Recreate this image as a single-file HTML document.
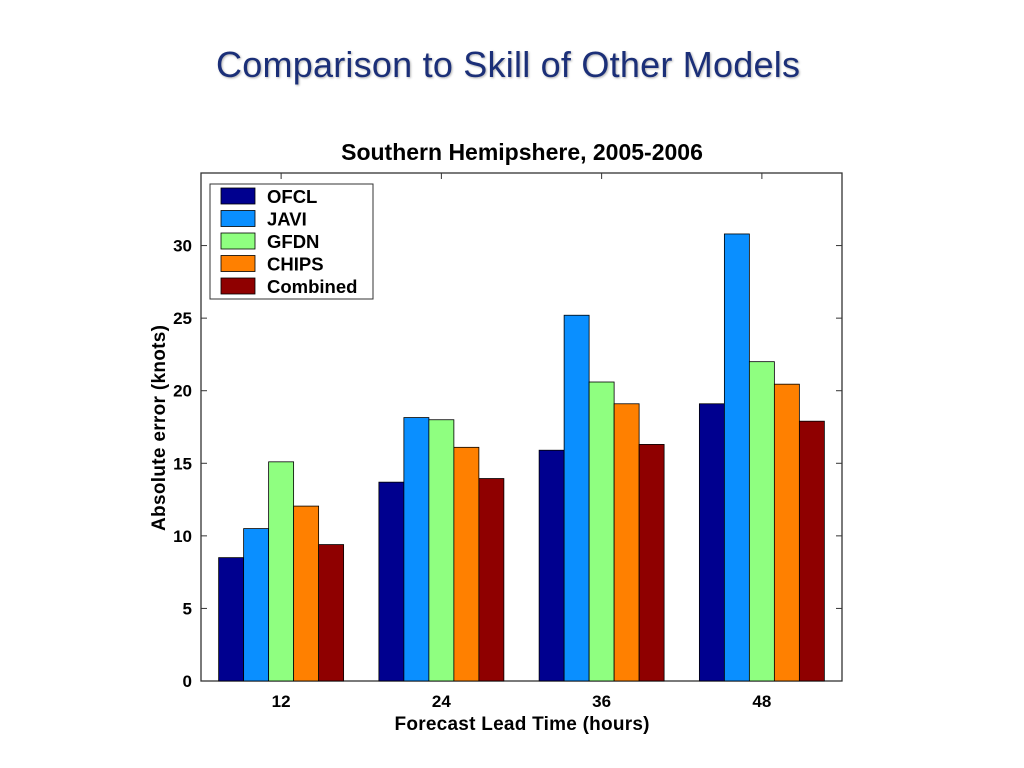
<!DOCTYPE html>
<html><head><meta charset="utf-8"><style>
body{margin:0;background:#fff;width:1024px;height:768px;overflow:hidden}
svg{display:block}
text{font-family:"Liberation Sans",Arial,sans-serif}
</style></head><body>
<svg id="c" width="1024" height="768">
<text x="508" y="77" text-anchor="middle" font-size="36" fill="#1b2f78" textLength="584" filter="drop-shadow(1px 1px 1px rgba(0,0,0,0.3))">Comparison to Skill of Other Models</text>
<text x="522" y="160" text-anchor="middle" font-size="23" font-weight="bold">Southern Hemipshere, 2005-2006</text>
<text x="522" y="730" text-anchor="middle" font-size="19" font-weight="bold" textLength="255">Forecast Lead Time (hours)</text>
<text transform="translate(165,428) rotate(-90)" text-anchor="middle" font-size="19" font-weight="bold" textLength="206">Absolute error (knots)</text>
<g id="plot"></g>
</svg>
<script>
const categories=["12","24","36","48"];
const seriesNames=["OFCL","JAVI","GFDN","CHIPS","Combined"];
const colors=["#00008f","#0a8fff","#8fff80","#ff8000","#8f0000"];
const OFCL=[8.5,13.7,15.9,19.1];
const JAVI=[10.5,18.15,25.2,30.8];
const GFDN=[15.1,18.0,20.6,22.0];
const CHIPS=[12.05,16.1,19.1,20.45];
const Combined=[9.4,13.95,16.3,17.9];
const yTicks=[0,5,10,15,20,25,30];
const series=[OFCL,JAVI,GFDN,CHIPS,Combined];
const L=201,R=842,T=173,B=681,yMax=35;
const y=v=>B-(B-T)*v/yMax;
const gw=(R-L)/categories.length;
const xc=i=>L+gw*(i+0.5);
const bw=gw*0.78/5;
const g=document.getElementById('plot');
const NS="http://www.w3.org/2000/svg";
function mk(t,a){const e=document.createElementNS(NS,t);for(const k in a)e.setAttribute(k,a[k]);g.appendChild(e);return e;}
let fr=mk('rect',{x:L,y:T,width:R-L,height:B-T,fill:'none',stroke:'#333','stroke-width':1.3});


yTicks.forEach(v=>{
 let l=mk('line',{x1:L,x2:L+6,y1:y(v),y2:y(v),stroke:'#333'});
 
 
 let l2=mk('line',{x1:R,x2:R-6,y1:y(v),y2:y(v),stroke:'#333'});
 
 
 let t=mk('text',{x:L-9,y:y(v)+6,'text-anchor':'end','font-size':17,'font-weight':'bold'});
 t.textContent=v;
 
 
});
categories.forEach((c,i)=>{
 let l=mk('line',{x1:xc(i),x2:xc(i),y1:T,y2:T+6,stroke:'#333'});
 
 
 series.forEach((s,j)=>{
  const x=xc(i)-2.5*bw+j*bw;
  let r=mk('rect',{x:x,y:y(s[i]),width:bw,height:B-y(s[i]),fill:colors[j],stroke:'#000','stroke-width':0.8});
  
  
 });
 let t=mk('text',{x:xc(i),y:B+26,'text-anchor':'middle','font-size':17,'font-weight':'bold'});
 t.textContent=c;
 
 
});
let lg=mk('rect',{x:210,y:184,width:163,height:115,fill:'#fff',stroke:'#333'});


seriesNames.forEach((n,j)=>{
 const yy=196+j*22.5;
 let s=mk('rect',{x:221,y:yy-8,width:34,height:16,fill:colors[j],stroke:'#000','stroke-width':0.8});
 
 
 let t=mk('text',{x:267,y:yy+7,'font-size':18.5,'font-weight':'bold'});
 t.textContent=n;
 
 
});
</script>
</body></html>
